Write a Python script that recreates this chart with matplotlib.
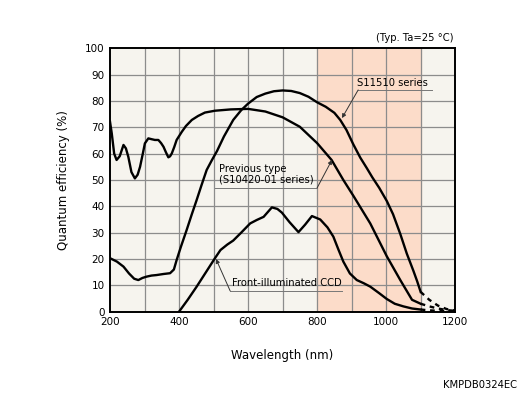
import matplotlib
matplotlib.use("Agg")
import matplotlib.pyplot as plt

# Previous type (S10420-01 series)
prev_wl = [200, 205, 212, 219, 228, 239, 246, 253, 262, 272, 280, 287, 295, 301, 311,
           320, 330, 340, 348, 355, 362, 369, 374, 379, 386, 393, 408, 420, 437, 455,
           475, 504, 550, 600, 650, 700, 750, 800, 842, 876, 905, 954, 1002, 1041,
           1075, 1100]
prev_qe = [72.1, 67.7, 60, 57.6, 59, 63.3, 62, 58.8, 53, 50.6, 52, 55, 60, 63.9, 65.8,
           65.5, 65.2, 65.2, 64, 62.6, 60.5, 58.6, 59, 60.1, 62.5, 65.2, 68.3, 70.5,
           72.8, 74.3, 75.6, 76.3, 76.8, 77, 76, 73.8, 70.2, 64, 57.6, 50, 44, 33.5,
           21, 12, 4.5, 3]

# S11510 series
s11510_wl = [200, 220, 239, 255, 270, 282, 294, 306, 320, 335, 355, 374, 385, 393, 405,
             422, 437, 451, 465, 480, 495, 510, 530, 557, 580, 600, 625, 650, 675, 700,
             725, 750, 775, 800, 825, 850, 867, 885, 905, 925, 944, 960, 980, 1002,
             1020, 1041, 1060, 1079, 1090, 1100]
s11510_qe = [20.3, 19, 17.1, 14.5, 12.5, 12, 12.8, 13.3, 13.7, 13.9, 14.3, 14.6, 16,
             19.6, 24.5, 31, 37, 42.4, 48, 53.8, 57.5, 61, 66.5, 72.8, 76.5, 79, 81.5,
             82.8, 83.7, 84, 83.8, 83, 81.6, 79.5, 77.8, 75.5, 72.8, 69, 63.5, 58.5,
             54.5, 51, 47, 42, 37, 29.5, 22, 15.5, 11.5, 7.5]

# Front-illuminated CCD
ccd_wl = [400, 425, 451, 478, 504, 520, 540, 557, 580, 606, 625, 645, 669, 685, 698,
          720, 746, 765, 785, 809, 830, 847, 862, 876, 895, 915, 935, 954, 980, 1002,
          1025, 1050, 1075, 1100]
ccd_qe = [0, 4.5, 9.5, 15, 20.3, 23.4, 25.5, 27, 30, 33.5, 34.8, 36, 39.6, 39, 37.6,
          34, 30.2, 33, 36.3, 35, 32, 28.5, 23.5, 19, 14.5, 12, 10.8, 9.5, 7, 4.8, 3,
          2, 1.2, 0.8]

# dashed tails beyond 1100 nm
ext_wl = [1100, 1125, 1150, 1175, 1200]
s11510_ext = [7.5, 4.5, 2.3, 1.0, 0.4]
prev_ext = [3, 2, 1.2, 0.6, 0.3]
ccd_ext = [0.8, 0.5, 0.3, 0.15, 0.1]

x_ticks = [200, 400, 600, 800, 1000, 1200]
y_ticks = list(range(0, 101, 10))

fig = plt.figure(figsize=(5.19, 3.96), dpi=100)
ax = fig.add_axes([0.212, 0.213, 0.665, 0.665])
ax.set_facecolor('#f6f4ee')
ax.axvspan(800, 1100, color='#fcdcc9', zorder=0)

for v in range(300, 1200, 100):
    ax.axvline(v, color='#8c8c8c', lw=0.9, zorder=1)
for h in range(10, 100, 10):
    ax.axhline(h, color='#8c8c8c', lw=0.9, zorder=1)

lw = 1.7
ax.plot(prev_wl, prev_qe, color='black', lw=lw, zorder=3, solid_joinstyle='round')
ax.plot(s11510_wl, s11510_qe, color='black', lw=lw, zorder=3, solid_joinstyle='round')
ax.plot(ccd_wl, ccd_qe, color='black', lw=lw, zorder=3, solid_joinstyle='round')
for tail in (s11510_ext, prev_ext, ccd_ext):
    ax.plot(ext_wl, tail, color='black', lw=lw, ls=(0, (2, 2)), zorder=3)

ax.set_xlim(200, 1200)
ax.set_ylim(0, 100)
ax.set_xticks(x_ticks)
ax.set_yticks(y_ticks)
ax.tick_params(length=0, labelsize=7.5, pad=4)
for s in ax.spines.values():
    s.set_linewidth(1.4)
ax.set_xlabel('Wavelength (nm)', fontsize=8.5, labelpad=16)
ax.set_ylabel('Quantum efficiency (%)', fontsize=8.5, labelpad=11)

arrow = dict(arrowstyle='-|>', color='#333333', lw=0.7, mutation_scale=6,
             shrinkA=0, shrinkB=0)
fs = 7.2

# S11510 label
ax.text(1018, 86.8, 'S11510 series', fontsize=fs, ha='center', va='center', zorder=5)
ax.plot([919, 1133], [84.2, 84.2], color='#777777', lw=0.7, zorder=4)
ax.annotate('', xy=(872, 73.5), xytext=(919, 84.2), arrowprops=arrow, zorder=5)

# Previous type label
ax.text(517, 52.3, 'Previous type\n(S10420-01 series)', fontsize=fs, ha='left',
        va='center', linespacing=1.1, zorder=5)
ax.plot([504, 800], [47.0, 47.0], color='#777777', lw=0.7, zorder=4)
ax.annotate('', xy=(843, 57.6), xytext=(800, 47.0), arrowprops=arrow, zorder=5)

# CCD label
ax.text(552, 10.9, 'Front-illuminated CCD', fontsize=fs, ha='left', va='center',
        zorder=5)
ax.plot([548, 872], [7.9, 7.9], color='#777777', lw=0.7, zorder=4)
ax.annotate('', xy=(507, 20), xytext=(548, 7.9), arrowprops=arrow, zorder=5)

fig.text(454 / 519, 1 - 38 / 396, '(Typ. Ta=25 °C)', fontsize=fs, ha='right',
         va='center')
fig.text(517 / 519, 1 - 385 / 396, 'KMPDB0324EC', fontsize=fs, ha='right',
         va='center')

fig.savefig('out.png', dpi=100)
